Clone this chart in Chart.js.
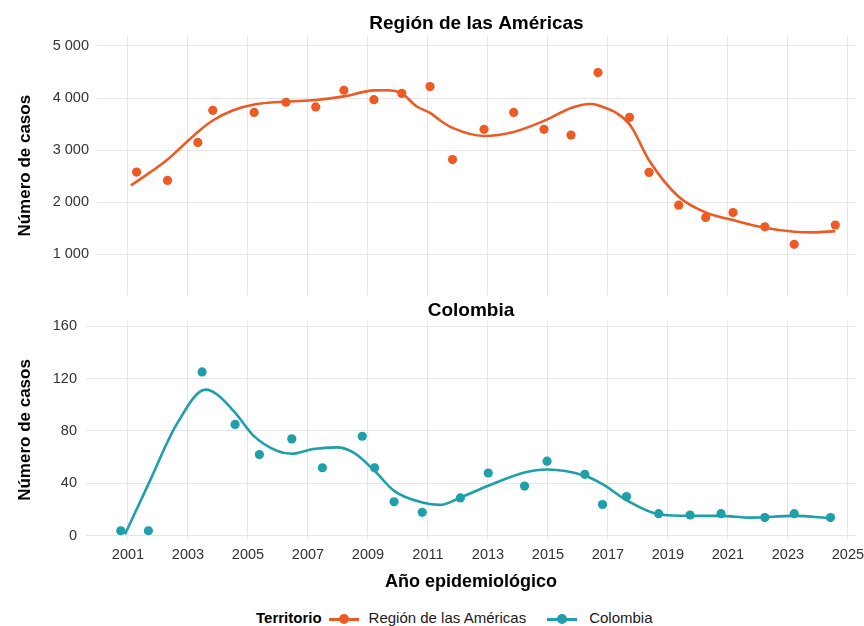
<!DOCTYPE html>
<html>
<head>
<meta charset="utf-8">
<script src="https://cdn.jsdelivr.net/npm/chart.js@4.4.1/dist/chart.umd.min.js"></script>
<style>
body{margin:0;background:#fff;font-family:"Liberation Sans",Arial,sans-serif;}
#wrap{position:relative;width:864px;height:626px;overflow:hidden;}
#c1{position:absolute;left:0;top:0;}
#c2{position:absolute;left:0;top:300px;}
#legend{position:absolute;left:256px;top:608px;height:20px;line-height:20px;font-size:15px;color:#1a1a1a;white-space:nowrap;}
#legend b{color:#000;}
.key{display:inline-block;position:relative;width:30px;height:3px;vertical-align:middle;}
.key::after{content:'';position:absolute;left:10px;top:-3.5px;width:10px;height:10px;border-radius:50%;background:inherit;}
</style>
</head>
<body>
<div id="wrap">
<canvas id="c1" width="864" height="300"></canvas>
<canvas id="c2" width="864" height="300"></canvas>
<div id="legend"><b>Territorio</b><span class="key" style="background:#ee5a24;margin:0 10px 0 7px"></span>Región de las Américas<span class="key" style="background:#1e9faa;margin:0 12px 0 21px"></span>Colombia</div>
</div>
<script>
// x ticks (odd years) and y ticks for each panel
var tickYears=[2001,2003,2005,2007,2009,2011,2013,2015,2017,2019,2021,2023,2025];
var amerTicks=[1000,2000,3000,4000,5000];
var colTicks=[0,40,80,120,160];

// Región de las Américas: yearly cases (points) and smoothed trend
var amerYears=[2001.29,2002.32,2003.33,2003.83,2005.21,2006.27,2007.26,2008.2,2009.2,2010.13,2011.07,2011.82,2012.87,2013.86,2014.87,2015.77,2016.67,2017.72,2018.37,2019.36,2020.26,2021.17,2022.23,2023.21,2024.58];
var amerCases=[2580,2420,3150,3765,3725,3920,3830,4150,3970,4090,4220,2820,3400,3725,3400,3290,4490,3630,2575,1945,1710,1805,1530,1195,1565];
var amerTrendYears=[2001.1,2002.29,2003.33,2003.84,2004.51,2005.21,2006.27,2007.26,2008.2,2009.2,2009.62,2010.13,2010.62,2011.07,2011.4,2011.82,2012.87,2013.86,2014.87,2015.77,2016.4,2016.67,2017.72,2018.37,2019.36,2020.26,2021.17,2022.23,2023.21,2023.84,2024.58];
var amerTrend=[2324,2808,3351,3575,3766,3876,3933,3962,4033,4147,4150,4090,3843,3717,3575,3428,3274,3351,3562,3811,3888,3862,3498,2808,2106,1806,1660,1512,1435,1424,1448];

// Colombia
var colYears=[2000.76,2001.68,2003.47,2004.57,2005.38,2006.46,2007.48,2008.81,2009.22,2009.87,2010.81,2012.08,2013.01,2014.22,2014.97,2016.23,2016.82,2017.62,2018.69,2019.74,2020.77,2022.23,2023.21,2024.42];
var colCases=[4,4,125,85,62,74,52,76,52,26,18,29,48,38,57,47,24,30,17,16,17,14,17,14];
var colTrendYears=[2000.9,2001.73,2002.62,2003.59,2003.96,2004.57,2005.18,2005.96,2006.46,2007.18,2007.96,2008.51,2009.22,2009.87,2010.81,2011.4,2012.08,2013.01,2014.22,2014.97,2016.23,2016.82,2017.62,2018.69,2019.74,2020.77,2021.73,2023.21,2024.42];
var colTrend=[1.3,42,85,111.5,108,94,76.5,65,62.7,66.3,67.5,63.7,49.7,34.4,25.5,23.7,29.3,38.3,48.4,50.7,45.9,39.5,27.3,16.6,15.3,15.3,14,15.3,13.5];

var F='"Liberation Sans", Arial, sans-serif';
var gridColor='#e6e6e6';
var orange='#ee5a24';
var teal='#1e9faa';

function pts(xs,ys){
  var out=[];
  for(var i=0;i<xs.length;i++){out.push({x:xs[i],y:ys[i]});}
  return out;
}
function spaced(v){
  return String(v).replace(/\B(?=(\d{3})+(?!\d))/g,' ');
}
function setTicks(list){
  return function(s){ s.ticks=list.map(function(v){return {value:v};}); };
}

function panel(id,o){
  var showX=o.showX;
  return new Chart(document.getElementById(id),{
    type:'scatter',
    data:{datasets:[
      {label:o.name,data:pts(o.xs,o.ys),backgroundColor:o.color,borderColor:o.color,pointRadius:4.6,pointHoverRadius:4.6,pointBorderWidth:0,order:0},
      {label:o.name+' tendencia',data:pts(o.tx,o.ty),showLine:true,borderColor:o.color,borderWidth:2.6,pointRadius:0,pointHoverRadius:0,cubicInterpolationMode:'monotone',order:1}
    ]},
    options:{
      responsive:false,
      animation:false,
      layout:{padding:{left:0,right:8,top:0,bottom:o.padBottom}},
      plugins:{
        legend:{display:false},
        tooltip:{enabled:false},
        title:{display:true,text:o.name,fullSize:false,color:'#000',
          font:{size:19,weight:'bold',family:F,lineHeight:o.titleLH},padding:o.titlePad}
      },
      scales:{
        x:{type:'linear',min:o.xmin,max:2025.27,
          grid:{color:gridColor,drawTicks:false},border:{display:false},
          afterBuildTicks:setTicks(tickYears),
          afterFit:function(s){s.paddingLeft=0;s.paddingRight=0;},
          ticks:{display:showX,autoSkip:false,maxRotation:0,padding:7,color:'#333',
            font:{size:14.5,family:F},callback:function(v){return String(v);}},
          title:{display:showX,text:'Año epidemiológico',color:'#000',
            font:{size:18,weight:'bold',family:F},padding:{top:0.8,bottom:7.2}}
        },
        y:{min:o.ymin,max:o.ymax,
          grid:{color:gridColor,drawTicks:false},border:{display:false},
          afterBuildTicks:setTicks(o.yticks),
          afterFit:function(s){s.width=o.left;s.paddingTop=0;s.paddingBottom=0;},
          ticks:{padding:o.tickPad,color:'#333',font:{size:14.5,family:F},callback:spaced},
          title:{display:true,text:'Número de casos',color:'#000',
            font:{size:17,weight:'bold',family:F},padding:{top:15}}
        }
      }
    }
  });
}

panel('c1',{name:'Región de las Américas',color:orange,xs:amerYears,ys:amerCases,tx:amerTrendYears,ty:amerTrend,
  yticks:amerTicks,ymin:215,ymax:5191,xmin:1999.97,left:97,tickPad:8,showX:false,padBottom:4,
  titleLH:1.2,titlePad:{top:12,bottom:1.2}});

panel('c2',{name:'Colombia',color:teal,xs:colYears,ys:colCases,tx:colTrendYears,ty:colTrend,
  yticks:colTicks,ymin:-2.3,ymax:163.9,xmin:1999.6,left:86,tickPad:9,showX:true,padBottom:0,
  titleLH:1.1,titlePad:{top:0,bottom:0}});
</script>
</body>
</html>
